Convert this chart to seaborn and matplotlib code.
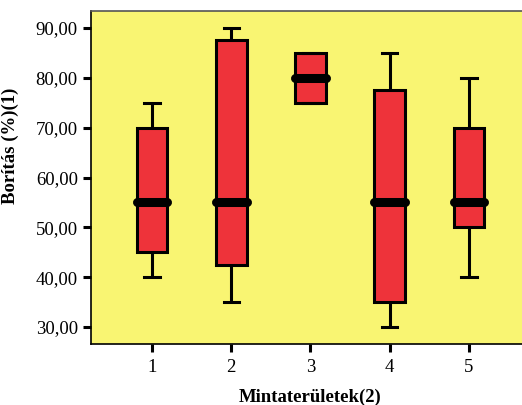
import pandas as pd
import numpy as np
import matplotlib.pyplot as plt
import seaborn as sns

# raw values per sample area, chosen so quartiles/whiskers match the picture
areas = ['1', '2', '3', '4', '5']
area1 = [40, 45, 55, 70, 75]
area2 = [35, 42.5, 55, 87.5, 90]
area3 = [75, 75, 80, 85, 85]
area4 = [30, 35, 55, 77.5, 85]
area5 = [40, 50, 55, 70, 80]
yticks = [30, 40, 50, 60, 70, 80, 90]

df = pd.DataFrame({
    'area': np.repeat(areas, 5),
    'value': area1 + area2 + area3 + area4 + area5,
})

plt.rcParams['font.family'] = ['Liberation Serif', 'DejaVu Serif']

fig = plt.figure(figsize=(5.22, 4.05), dpi=100)
ax = fig.add_axes([0.1743, 0.1506, 0.841, 0.8222])
ax.set_facecolor('#F9F572')

sns.boxplot(data=df, x='area', y='value', order=areas, ax=ax, whis=3,
            width=0.39, color='#EE333A', saturation=1, linecolor='black',
            linewidth=2.2,
            medianprops=dict(linewidth=6.5, solid_capstyle='round', color='black'),
            boxprops=dict(edgecolor='black', linewidth=2.2),
            whiskerprops=dict(linewidth=2.2),
            capprops=dict(linewidth=2.2))

ax.set_xlim(-0.77, 4.77)
ax.set_ylim(26.6, 93.4)
ax.set_yticks(yticks)
ax.set_yticklabels([f'{v},00' for v in yticks], fontsize=13.5)
ax.tick_params(axis='x', labelsize=13.5, width=2.2, length=6, pad=5)
ax.tick_params(axis='y', width=2.2, length=6)
ax.set_xlabel('Mintaterületek(2)', fontsize=13.5, fontweight='bold', labelpad=9)
ax.set_ylabel('Borítás (%)(1)', fontsize=13.5, fontweight='bold')
ax.yaxis.set_label_coords(-0.165, 0.595)
for s in ax.spines.values():
    s.set_linewidth(1.2)
ax.spines['top'].set_color('#555555')

fig.savefig('out.png', dpi=100)
